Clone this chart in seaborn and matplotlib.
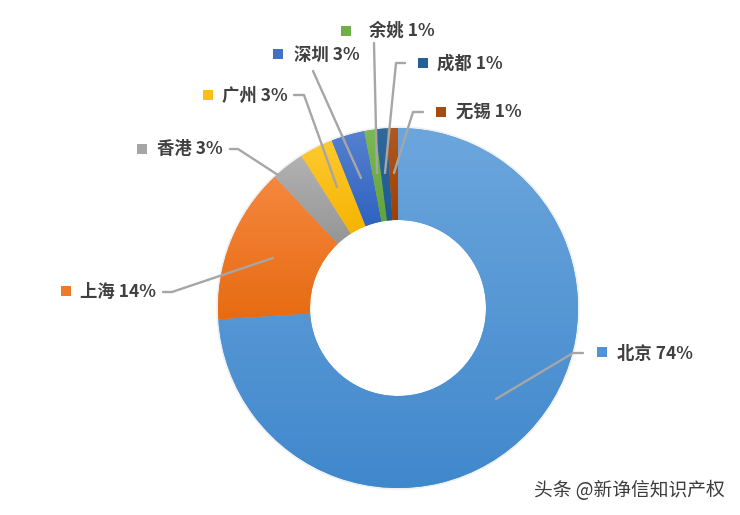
import numpy as np
import matplotlib
matplotlib.use("Agg")
import matplotlib.pyplot as plt
import matplotlib.colors as mcolors
from matplotlib.patches import Wedge
import seaborn as sns

cities = ["北京", "上海", "香港", "广州", "深圳", "余姚", "成都", "无锡"]
shares = [74, 14, 3, 3, 3, 1, 1, 1]
base_hex = ["#4f94d6", "#ee7a28", "#a5a5a5", "#fbbf10", "#4272c8", "#70ae47", "#255f98", "#a54c12"]
shade_top = ["#6ca6dd", "#f5873f", "#b2b2b2", "#ffc930", "#5680cf", "#7db856", "#33689a", "#ae5a22"]
shade_bottom = ["#4088cc", "#e76b12", "#959595", "#f5b400", "#2f63c0", "#62a437", "#1c5a96", "#a04000"]

W, H = 740, 515
CX, CY, R = 398, 308, 180
INNER = 88

# layout in pixels of the picture
text_left = [617, 80, 157, 222, 294, 369, 437, 456]
text_y = [354, 292, 149, 96, 55, 31, 64, 113]
square_xy = [(602, 352), (66, 291), (142, 149), (208, 95), (278, 54), (346, 31), (423, 63), (441, 112)]
leaders = [
    [(496, 399), (573, 353), (583, 353)],
    [(273, 258), (172, 292), (163, 292)],
    [(278, 175), (238, 149), (230, 149)],
    [(337, 187), (304, 95), (294, 95)],
    [(361, 178), (313, 71)],
    [(377, 173), (374, 43)],
    [(385, 173), (396, 63), (405, 63)],
    [(394, 173), (413, 112), (423, 112)],
]

sns.set_theme(style="white")
plt.rcParams["font.family"] = ["Noto Sans CJK SC", "DejaVu Sans"]
palette = sns.color_palette(base_hex)

fig = plt.figure(figsize=(W / 100, H / 100), dpi=100, facecolor="white")
ax = fig.add_axes([0, 0, 1, 1])


def px(p):
    return ((p[0] - CX) / R, (CY - p[1]) / R)


xlim = (-CX / R, (W - CX) / R)
ylim = ((CY - H) / R, CY / R)

# soft rim around the ring
ax.add_patch(Wedge((0, 0), 1.01, 0, 360, width=0.02, fc="#eef0f3", ec="none", zorder=0))

wedges, _ = ax.pie(
    shares,
    colors=palette,
    startangle=90,
    counterclock=False,
    radius=1,
    wedgeprops=dict(width=1 - INNER / R, edgecolor="none"),
)

# top-to-bottom shading on every wedge
for w, c_top, c_bottom in zip(wedges, shade_top, shade_bottom):
    top = np.array(mcolors.to_rgb(c_top))
    bottom = np.array(mcolors.to_rgb(c_bottom))
    t = np.linspace(0, 1, 256)[:, None, None]
    img = top[None, None, :] * (1 - t) + bottom[None, None, :] * t
    ext = w.get_path().get_extents()
    im = ax.imshow(
        img,
        extent=(ext.x0, ext.x1, ext.y0, ext.y1),
        origin="upper",
        aspect="auto",
        zorder=1,
        interpolation="bilinear",
    )
    im.set_clip_path(w)

for pts in leaders:
    xy = np.array([px(p) for p in pts])
    ax.plot(xy[:, 0], xy[:, 1], color="#a6a6a6", lw=1.7, zorder=3, solid_capstyle="round")

for name, share, left, y, sq, col in zip(cities, shares, text_left, text_y, square_xy, palette):
    sx, sy = px(sq)
    ax.scatter([sx], [sy], marker="s", s=52, color=[col], linewidths=0, zorder=4)
    tx, ty = px((left, y))
    ax.text(tx, ty, f"{name} {share}%", fontsize=12.5, fontweight="bold", color="#404040",
            ha="left", va="center", zorder=5)

wx, wy = px((534, 491))
ax.text(wx, wy, "头条 @新诤信知识产权", fontsize=13.5, color="#3c3c3c", ha="left", va="center", zorder=5)

ax.set_xlim(*xlim)
ax.set_ylim(*ylim)
ax.set_aspect("auto")
ax.axis("off")

fig.savefig("out.png", dpi=100, facecolor="white")
